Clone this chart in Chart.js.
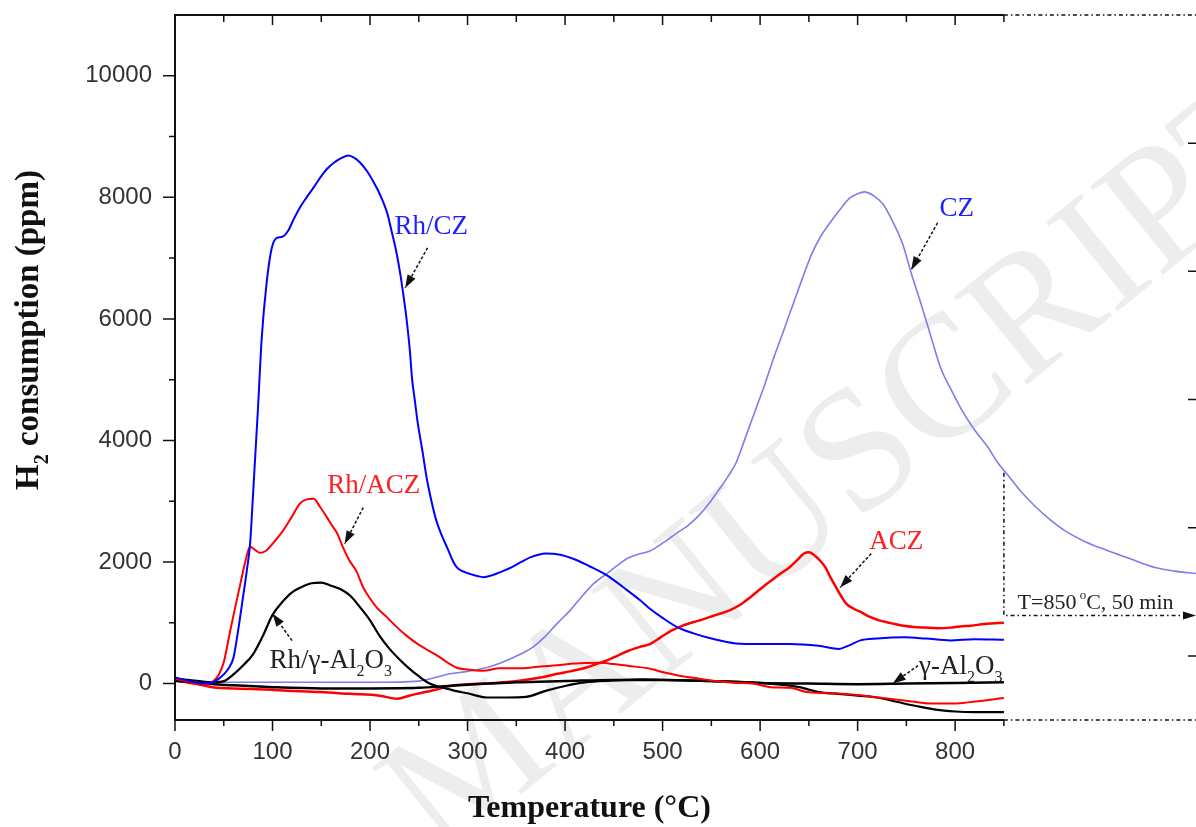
<!DOCTYPE html>
<html>
<head>
<meta charset="utf-8">
<script src="https://cdn.jsdelivr.net/npm/chart.js@4.4.1/dist/chart.umd.min.js"></script>
<style>
  html, body { margin: 0; padding: 0; background: #fff; }
  #wrap { width: 1196px; height: 827px; position: relative; }
</style>
</head>
<body>
<div id="wrap"><canvas id="tpr"></canvas></div>
<script>
// H2-TPR profiles, temperature in °C, H2 consumption in ppm
const rhczT = [0,10,20,30,40,45,50,55,60,65,70,74,77,80,85,89,94,99,104,110,116,122,128,135,142,150,156,163,170,178,184,190,197,203,208,213,218,222,227,231,235,238,241,243,246,249,254,258,263,268,274,279,284,289,296,303,310,316,325,333,345,355,365,380,395,409,425,443,460,477,487,500,516,531,550,575,600,630,660,681,690,703,720,748,770,795,820,850];
const rhczH2 = [100,60,20,0,30,80,150,250,430,900,1450,1900,2300,3100,4500,5700,6600,7150,7330,7350,7450,7650,7830,8000,8160,8350,8470,8570,8640,8690,8650,8570,8430,8270,8120,7940,7720,7450,7100,6740,6300,5920,5450,5030,4650,4280,3800,3390,3000,2680,2420,2240,2050,1910,1840,1800,1770,1750,1780,1830,1910,2000,2080,2140,2120,2050,1930,1780,1580,1370,1230,1080,920,830,740,660,650,650,620,570,620,710,740,760,740,710,730,720];

// CZ keeps going after 850 °C (isothermal part, same axis continued)
const czT = [0,50,100,150,200,250,282,300,319,337,355,367,380,392,405,414,429,443,455,465,476,487,502,515,526,538,548,556,566,575,585,595,605,614,624,634,643,653,663,673,683,692,700,707,716,726,736,746,755,765,775,785,797,809,821,834,843,853,868,883,897,912,934,956,980,1005,1025,1047];
const czH2 = [30,20,20,20,20,40,160,200,260,360,490,600,780,990,1200,1370,1640,1810,1960,2070,2130,2180,2330,2480,2600,2780,2970,3150,3380,3620,4050,4490,4930,5360,5800,6250,6650,7070,7380,7610,7820,7990,8060,8090,8030,7890,7600,7240,6750,6250,5720,5200,4800,4440,4150,3880,3650,3450,3150,2900,2700,2520,2330,2190,2050,1910,1850,1810];

const rhaczT = [0,10,20,30,40,45,50,56,61,67,72,77,82,87,93,100,111,120,128,135,142,149,156,161,166,172,179,186,193,200,207,218,228,238,248,258,269,279,289,300,316,333,355,375,392,410,436,450,465,485,502,520,538,555,575,592,611,631,648,685,722,748,758,777,795,813,830,843,850];
const rhaczH2 = [80,40,0,-20,50,150,350,820,1200,1640,2000,2250,2200,2150,2180,2300,2520,2750,2960,3030,3040,2900,2730,2600,2480,2250,2020,1850,1580,1400,1250,1080,920,780,660,560,460,350,260,230,210,250,250,280,300,330,340,320,290,250,180,120,80,40,10,0,-60,-70,-140,-170,-230,-280,-300,-330,-330,-310,-280,-250,-240];

const aczT = [0,20,43,80,111,150,179,210,228,240,248,265,282,300,319,337,355,375,392,405,421,432,443,454,465,476,487,498,509,520,538,553,568,580,590,600,611,620,630,638,645,650,655,661,667,672,678,683,688,696,704,712,722,735,747,758,769,782,795,805,816,830,840,850];
const aczH2 = [50,0,-70,-90,-115,-140,-170,-200,-250,-200,-170,-110,-40,-10,0,20,50,100,160,200,260,320,380,460,540,600,650,760,870,950,1040,1120,1200,1300,1420,1550,1690,1800,1910,2030,2140,2160,2120,2030,1910,1750,1580,1440,1320,1230,1170,1100,1040,990,950,930,920,910,920,940,950,980,990,1000];

const rhalT = [0,20,40,50,60,70,80,90,100,110,120,130,140,150,160,170,180,190,200,210,220,230,240,250,260,270,280,290,300,320,340,360,380,400,420,450,480,500,550,600,640,660,680,700,720,740,760,780,800,820,850];
const rhalH2 = [80,50,20,40,150,300,480,780,1130,1340,1500,1590,1650,1660,1610,1550,1440,1250,1040,780,570,400,250,120,10,-50,-90,-130,-160,-230,-230,-220,-120,-40,20,50,70,60,40,10,-60,-140,-170,-200,-230,-300,-370,-430,-460,-470,-470];

const alT = [0,30,60,100,150,200,250,280,300,350,400,450,500,550,600,650,700,750,800,850];
const alH2 = [50,0,-30,-60,-80,-80,-70,-40,-20,20,40,60,60,40,10,0,-10,0,10,20];

// tick positions
const xTicks = [0,50,100,150,200,250,300,350,400,450,500,550,600,650,700,750,800,850];
const yTicks = [0,1000,2000,3000,4000,5000,6000,7000,8000,9000,10000];
const sideTicks = [0,1,2,3,4];

const rampEnd = 850;       // end of the temperature ramp
const holdLevel = 1120;    // height of the "T=850 °C, 50 min" bracket
const czAtRampEnd = 3470;

const SERIF = "'Liberation Serif', 'Times New Roman', serif";
const SANS = "'Liberation Sans', Arial, sans-serif";

function pts(ts, vs) { return ts.map((t, i) => ({ x: t, y: vs[i] })); }

// labels: [x, y] in data units = left end of the baseline
const labels = [
  { at: [225, 7400], color: "#1f1fff", parts: [["Rh/CZ"]] },
  { at: [784, 7700], color: "#1f1fff", parts: [["CZ"]] },
  { at: [156, 3140], color: "#ff1f1f", parts: [["Rh/ACZ"]] },
  { at: [712, 2220], color: "#ff1f1f", parts: [["ACZ"]] },
  { at: [97, 263], color: "#222", parts: [["Rh/γ-Al"], ["2", "sub"], ["O"], ["3", "sub"]] },
  { at: [763, 164], color: "#222", parts: [["γ-Al"], ["2", "sub"], ["O"], ["3", "sub"]] }
];
const arrows = [
  [[259, 7170], [236, 6510]],
  [[782, 7580], [755, 6810]],
  [[193, 2895], [174, 2300]],
  [[714, 2140], [682, 1580]],
  [[120, 707], [100, 1150]],
  [[762, 296], [736, 0]]
];

function richText(ctx, x, y, parts, size, weight) {
  parts.forEach(([s, kind]) => {
    const small = kind === "sub" || kind === "sup";
    ctx.font = (weight || "") + " " + Math.round(small ? size * 0.6 : size) + "px " + SERIF;
    const dy = kind === "sub" ? size * 0.3 : kind === "sup" ? -size * 0.42 : 0;
    ctx.fillText(s, x, y + dy);
    x += ctx.measureText(s).width;
  });
  return x;
}

function richWidth(ctx, parts, size, weight) {
  let w = 0;
  parts.forEach(([s, kind]) => {
    const small = kind === "sub" || kind === "sup";
    ctx.font = (weight || "") + " " + Math.round(small ? size * 0.6 : size) + "px " + SERIF;
    w += ctx.measureText(s).width;
  });
  return w;
}

function arrow(ctx, x0, y0, x1, y1) {
  ctx.save();
  ctx.strokeStyle = "#111";
  ctx.fillStyle = "#111";
  ctx.lineWidth = 1.5;
  ctx.setLineDash([3, 2]);
  ctx.beginPath();
  ctx.moveTo(x0, y0);
  ctx.lineTo(x1, y1);
  ctx.stroke();
  ctx.setLineDash([]);
  const a = Math.atan2(y1 - y0, x1 - x0);
  const L = 13, W = 4.5;
  ctx.beginPath();
  ctx.moveTo(x1, y1);
  ctx.lineTo(x1 - L * Math.cos(a) + W * Math.sin(a), y1 - L * Math.sin(a) - W * Math.cos(a));
  ctx.lineTo(x1 - L * Math.cos(a) - W * Math.sin(a), y1 - L * Math.sin(a) + W * Math.cos(a));
  ctx.closePath();
  ctx.fill();
  ctx.restore();
}

const setTicks = list => scale => { scale.ticks = list.map(v => ({ value: v })); };

const framePlugin = {
  id: "frame",
  beforeDatasetsDraw(chart) {
    // faint "MANUSCRIPT" watermark
    const ctx = chart.ctx;
    ctx.save();
    ctx.translate(440, 860);
    ctx.rotate(-39 * Math.PI / 180);
    ctx.font = "175px " + SERIF;
    ctx.fillStyle = "rgba(0,0,0,0.07)";
    ctx.textBaseline = "alphabetic";
    ctx.fillText("MANUSCRIPT", 0, 0);
    ctx.restore();
  },
  afterDraw(chart) {
    const ctx = chart.ctx;
    const x = chart.scales.x, y = chart.scales.y, y2 = chart.scales.y2;
    const { left, right, top, bottom } = chart.chartArea;
    const xEnd = x.getPixelForValue(rampEnd);
    ctx.save();
    ctx.strokeStyle = "#111";
    ctx.lineWidth = 2;
    ctx.beginPath();
    ctx.moveTo(left, top); ctx.lineTo(xEnd, top);
    ctx.moveTo(left, bottom); ctx.lineTo(xEnd, bottom);
    ctx.moveTo(left, top - 1); ctx.lineTo(left, bottom + 1);
    ctx.stroke();

    ctx.lineWidth = 1.5;
    ctx.beginPath();
    x.ticks.forEach(t => {
      const px = x.getPixelForValue(t.value);
      const major = t.value % 100 === 0;
      ctx.moveTo(px, bottom); ctx.lineTo(px, bottom + (major ? 11 : 6));
      ctx.moveTo(px, top); ctx.lineTo(px, top + (major ? 10 : 7));
    });
    y.ticks.forEach(t => {
      const py = y.getPixelForValue(t.value);
      const major = t.value % 2000 === 0;
      ctx.moveTo(left, py); ctx.lineTo(left - (major ? 12 : 6), py);
    });
    // ticks of the neighbouring (cut off) time panel
    sideTicks.forEach(v => {
      const py = y2.getPixelForValue(v);
      ctx.moveTo(right, py); ctx.lineTo(right - 8, py);
    });
    ctx.stroke();

    // dash-dot continuation of the frame and the hold bracket
    ctx.setLineDash([4, 3, 1.5, 3]);
    ctx.beginPath();
    ctx.moveTo(xEnd, top); ctx.lineTo(right, top);
    ctx.moveTo(xEnd, bottom); ctx.lineTo(right, bottom);
    const yTop = y.getPixelForValue(czAtRampEnd), yHold = y.getPixelForValue(holdLevel);
    ctx.moveTo(xEnd, yTop); ctx.lineTo(xEnd, yHold); ctx.lineTo(right - 12, yHold);
    ctx.stroke();
    ctx.setLineDash([]);
    ctx.fillStyle = "#111";
    ctx.beginPath();
    ctx.moveTo(right, yHold);
    ctx.lineTo(right - 13, yHold - 4);
    ctx.lineTo(right - 13, yHold + 4);
    ctx.closePath();
    ctx.fill();

    // hold label
    ctx.fillStyle = "#222";
    ctx.textBaseline = "alphabetic";
    richText(ctx, x.getPixelForValue(864), y.getPixelForValue(1234),
      [["T=850"], [" o", "sup"], ["C, 50 min"]], 22);

    // curve labels and arrows
    labels.forEach(l => {
      ctx.fillStyle = l.color;
      richText(ctx, x.getPixelForValue(l.at[0]), y.getPixelForValue(l.at[1]), l.parts, 27);
    });
    arrows.forEach(([a, b]) => {
      arrow(ctx, x.getPixelForValue(a[0]), y.getPixelForValue(a[1]),
        x.getPixelForValue(b[0]), y.getPixelForValue(b[1]));
    });

    // axis titles
    ctx.fillStyle = "#111";
    ctx.font = "bold 32px " + SERIF;
    ctx.textAlign = "center";
    ctx.fillText("Temperature (°C)", (left + xEnd) / 2, 817);
    ctx.textAlign = "left";
    const yParts = [["H"], ["2", "sub"], [" consumption (ppm)"]];
    ctx.translate(38, 330);
    ctx.rotate(-Math.PI / 2);
    const w = richWidth(ctx, yParts, 33, "bold");
    richText(ctx, -w / 2, 0, yParts, 33, "bold");
    ctx.restore();
  }
};

const line = (label, ts, vs, color, width) => ({
  label, data: pts(ts, vs), borderColor: color, borderWidth: width,
  pointRadius: 0, cubicInterpolationMode: "monotone", fill: false
});

new Chart(document.getElementById("tpr"), {
  type: "line",
  data: {
    datasets: [
      line("Rh/CZ", rhczT, rhczH2, "#0000ff", 2),
      line("Rh/ACZ", rhaczT, rhaczH2, "#ff0000", 2),
      line("Rh/γ-Al2O3", rhalT, rhalH2, "#000000", 2.2),
      line("γ-Al2O3", alT, alH2, "#000000", 2.5),
      line("ACZ", aczT, aczH2, "#ff0000", 2.5),
      line("CZ", czT, czH2, "rgb(125,125,235)", 1.6)
    ]
  },
  options: {
    responsive: true,
    maintainAspectRatio: false,
    animation: false,
    layout: { padding: { top: 15, right: 0, bottom: 0, left: 0 } },
    plugins: { legend: { display: false }, tooltip: { enabled: false } },
    scales: {
      x: {
        type: "linear",
        min: 0,
        max: 1047,
        afterBuildTicks: setTicks(xTicks),
        grid: { display: false, drawTicks: true, tickLength: 18 },
        border: { display: false },
        ticks: {
          autoSkip: false,
          maxRotation: 0,
          padding: 0,
          color: "#333",
          font: { family: SANS, size: 24 },
          callback: v => (v % 100 === 0 && v <= 800 ? v : "")
        },
        afterFit: s => { s.height = 107; }
      },
      y: {
        min: -600,
        max: 11000,
        afterBuildTicks: setTicks(yTicks),
        grid: { display: false, drawTicks: true, tickLength: 23 },
        border: { display: false },
        ticks: {
          autoSkip: false,
          padding: 0,
          color: "#333",
          font: { family: SANS, size: 24 },
          callback: v => (v % 2000 === 0 ? v : "")
        },
        afterFit: s => { s.width = 175; }
      },
      y2: {
        display: false,
        position: "right",
        min: -0.5,
        max: 5
      }
    }
  },
  plugins: [framePlugin]
});
</script>
</body>
</html>
